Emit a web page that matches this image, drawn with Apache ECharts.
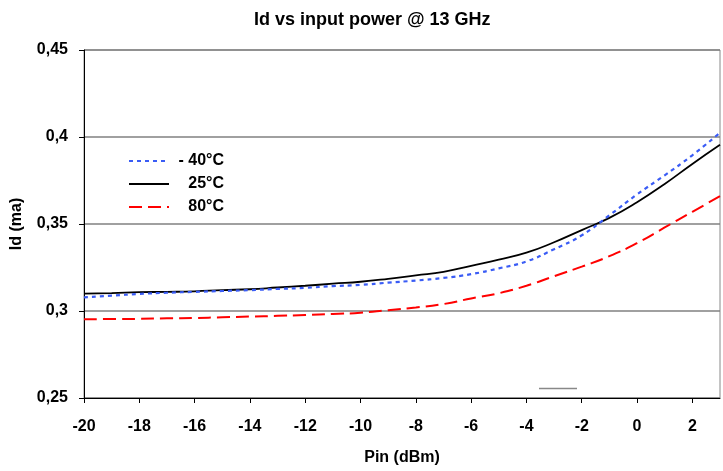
<!DOCTYPE html>
<html>
<head>
<meta charset="utf-8">
<script src="https://cdn.jsdelivr.net/npm/echarts@6/dist/echarts.min.js"></script>
<style>
  html, body { margin: 0; padding: 0; background: #fff; }
  #chart { width: 723px; height: 471px; }
</style>
</head>
<body>
<div id="chart"></div>
<script>
  /* Pin (dBm) */
  var pin = [-20, -19, -18, -17, -16, -15, -14, -13, -12, -11, -10, -9, -8, -7, -6, -5, -4, -3, -2, -1, 0, 1, 2, 3];
  /* Id per temperature */
  var idMinus40 = [0.3078, 0.3088, 0.3098, 0.3105, 0.3110, 0.3115, 0.3120, 0.3127, 0.3133, 0.3143, 0.3150, 0.3163, 0.3175, 0.3190, 0.3212, 0.3245, 0.3285, 0.3355, 0.3435, 0.3550, 0.3670, 0.3780, 0.3895, 0.4025];
  var id25 = [0.3100, 0.3103, 0.3108, 0.3110, 0.3113, 0.3120, 0.3125, 0.3135, 0.3145, 0.3157, 0.3168, 0.3185, 0.3205, 0.3225, 0.3260, 0.3295, 0.3335, 0.3395, 0.3465, 0.3535, 0.3625, 0.3730, 0.3845, 0.3955];
  var id80 = [0.2952, 0.2954, 0.2955, 0.2958, 0.2960, 0.2964, 0.2968, 0.2972, 0.2977, 0.2983, 0.2990, 0.3005, 0.3020, 0.3040, 0.3072, 0.3102, 0.3145, 0.3200, 0.3255, 0.3315, 0.3390, 0.3480, 0.3570, 0.3660];
  /* tick labels */
  var xTicks = [-20, -18, -16, -14, -12, -10, -8, -6, -4, -2, 0, 2];
  var seriesNames = ['- 40°C', '25°C', '80°C'];

  function pairs(ys) {
    return pin.map(function (x, i) { return [x, ys[i]]; });
  }

  var font = '"Liberation Sans", Arial, sans-serif';
  var chart = echarts.init(document.getElementById('chart'));

  chart.setOption({
    animation: false,
    textStyle: { fontFamily: font },
    title: {
      text: 'Id vs input power @ 13 GHz',
      left: 249,
      top: 6,
      textStyle: { fontSize: 18, fontWeight: 'bold', color: '#000', fontFamily: font }
    },
    legend: {
      data: seriesNames,
      orient: 'vertical',
      left: 123,
      top: 148,
      itemWidth: 40,
      itemHeight: 14,
      itemGap: 7,
      itemStyle: { opacity: 0 },
      formatter: function (name) { return '{t|' + name + '}'; },
      textStyle: {
        fontSize: 16, fontWeight: 'bold', color: '#000',
        rich: { t: { fontSize: 16, fontWeight: 'bold', color: '#000', width: 50, align: 'right', fontFamily: font } }
      }
    },
    grid: {
      left: 84,
      right: 3,
      top: 50,
      bottom: 73,
      show: true,
      borderColor: '#888',
      borderWidth: 1
    },
    graphic: [
      { type: 'line', shape: { x1: 539, y1: 388.5, x2: 577, y2: 388.5 }, style: { stroke: '#888', lineWidth: 1.5 } }
    ],
    xAxis: {
      type: 'value',
      min: -20,
      max: 3,
      interval: 2,
      name: 'Pin (dBm)',
      nameLocation: 'middle',
      nameGap: 52,
      nameTextStyle: { fontSize: 16, fontWeight: 'bold', color: '#000' },
      axisLine: { onZero: false, lineStyle: { color: '#000', width: 1 } },
      axisTick: { length: 5, lineStyle: { color: '#000' }, customValues: xTicks },
      axisLabel: { fontSize: 16, fontWeight: 'bold', color: '#000', margin: 21, customValues: xTicks },
      splitLine: { show: false }
    },
    yAxis: {
      type: 'value',
      min: 0.25,
      max: 0.45,
      interval: 0.05,
      name: 'Id (ma)',
      nameLocation: 'middle',
      nameGap: 59,
      nameMoveOverlap: false,
      nameRotate: 90,
      nameTextStyle: { fontSize: 16, fontWeight: 'bold', color: '#000' },
      axisLine: { show: true, onZero: false, lineStyle: { color: '#000', width: 1 } },
      axisTick: { show: true, length: 5, lineStyle: { color: '#000' } },
      axisLabel: {
        fontSize: 16, fontWeight: 'bold', color: '#000', margin: 16,
        formatter: function (v) { return String(+v.toFixed(2)).replace('.', ','); }
      },
      splitLine: { show: true, lineStyle: { color: '#808080', width: 1.5 } }
    },
    series: [
      {
        name: seriesNames[0],
        type: 'line',
        smooth: true,
        symbol: 'none',
        data: pairs(idMinus40),
        lineStyle: { color: '#3a5cf5', width: 2.2, type: [4, 4] },
        itemStyle: { color: '#3a5cf5' },
        z: 3
      },
      {
        name: seriesNames[1],
        type: 'line',
        smooth: true,
        symbol: 'none',
        data: pairs(id25),
        lineStyle: { color: '#000', width: 1.8 },
        itemStyle: { color: '#000' },
        z: 2
      },
      {
        name: seriesNames[2],
        type: 'line',
        smooth: true,
        symbol: 'none',
        data: pairs(id80),
        lineStyle: { color: '#ff0000', width: 2, type: [13, 6] },
        itemStyle: { color: '#ff0000' },
        z: 2
      }
    ]
  });
</script>
</body>
</html>
